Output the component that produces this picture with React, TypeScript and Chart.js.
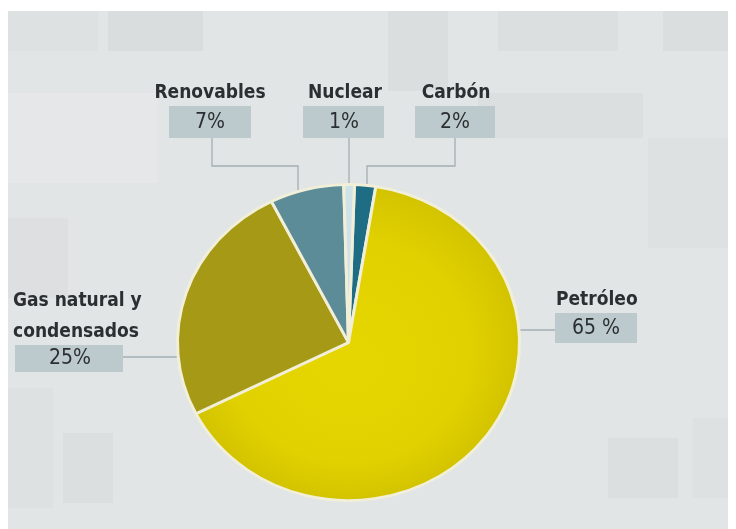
import React, { useEffect, useRef } from 'react';
import { Chart, registerables } from 'chart.js';
Chart.register(...registerables);

// ---- data ----
const categories = ['Carbón', 'Petróleo', 'Gas natural y condensados', 'Renovables', 'Nuclear'];
const shares = [2, 65, 25, 7, 1];
const shareLabels = ['2%', '65 %', '25%', '7%', '1%'];
const nameLines = [['Carbón'], ['Petróleo'], ['Gas natural y', 'condensados'], ['Renovables'], ['Nuclear']];
const sliceColors = ['#1f6d85', '#e0d000', '#a69916', '#5d8c99', '#cfe2e7'];

// ---- layout (canvas coordinates) ----
const Y_SQUASH = 158 / 171;
const labelLayout = [
  { kind: 'top', nameX: 448, nameY: 85, box: [407, 98, 80, 32], pctX: 447, pctY: 115, lineX: 447, elbowY: 158, endX: 359 },
  { kind: 'right', nameX: 548, nameY: 292, align: 'left', box: [547, 305, 82, 30], pctX: 588, pctY: 321, lineY: 322 },
  { kind: 'left', nameX: 5, nameY: 293, lineGap: 31, align: 'left', box: [7, 337, 108, 27], pctX: 62, pctY: 351, lineY: 349 },
  { kind: 'top', nameX: 202, nameY: 85, box: [161, 98, 82, 32], pctX: 202, pctY: 115, lineX: 204, elbowY: 158, endX: 290 },
  { kind: 'top', nameX: 337, nameY: 85, box: [295, 98, 81, 32], pctX: 336, pctY: 115, lineX: 341, elbowY: null, endX: 341 },
];

const bgBlocks: [number, number, number, number, string][] = [
  [0, 3, 728, 518, '#e2e5e6'],
  [0, 3, 90, 40, '#dee1e2'],
  [100, 3, 95, 40, '#dadddd'],
  [380, 3, 60, 80, '#dbdedf'],
  [490, 3, 120, 40, '#dcdfe0'],
  [655, 3, 73, 40, '#dbdedf'],
  [470, 85, 165, 45, '#dcdfe0'],
  [0, 85, 150, 90, '#e5e7e8'],
  [640, 130, 88, 110, '#dee1e2'],
  [0, 210, 60, 80, '#dddfe0'],
  [0, 380, 45, 120, '#dee1e2'],
  [55, 425, 50, 70, '#dcdfe0'],
  [600, 430, 70, 60, '#dcdfe0'],
  [685, 410, 43, 80, '#dee1e2'],
];

const bgPlugin = {
  id: 'bg',
  beforeDraw(chart: any) {
    const c = chart.ctx;
    c.save();
    c.fillStyle = '#ffffff';
    c.fillRect(0, 0, chart.width, chart.height);
    for (const [x, y, w, h, col] of bgBlocks) {
      c.fillStyle = col;
      c.fillRect(x, y, w, h);
    }
    c.restore();
  },
};

const squashPlugin = {
  id: 'squash',
  beforeDatasetsDraw(chart: any) {
    const arc = chart.getDatasetMeta(0).data[0];
    const c = chart.ctx;
    c.save();
    c.translate(arc.x, arc.y);
    c.scale(1, Y_SQUASH);
    c.translate(-arc.x, -arc.y);
  },
  afterDatasetsDraw(chart: any) {
    chart.ctx.restore();
  },
};

const labelPlugin = {
  id: 'calloutLabels',
  afterDraw(chart: any) {
    const c = chart.ctx;
    const arc = chart.getDatasetMeta(0).data[0];
    const cx = arc.x, cy = arc.y;
    const rx = arc.outerRadius + 1.5;
    const ry = rx * Y_SQUASH;
    const edgeY = (x: number) => cy - ry * Math.sqrt(Math.max(0, 1 - ((x - cx) / rx) ** 2));
    const edgeX = (y: number, side: number) => cx + side * rx * Math.sqrt(Math.max(0, 1 - ((y - cy) / ry) ** 2));
    c.save();
    categories.forEach((_, i) => {
      const L: any = labelLayout[i];
      const [bx, by, bw, bh] = L.box;
      // leader line
      c.strokeStyle = '#a3aeb3';
      c.lineWidth = 1.3;
      c.beginPath();
      if (L.kind === 'top') {
        c.moveTo(L.lineX, by + bh);
        if (L.elbowY != null) {
          c.lineTo(L.lineX, L.elbowY);
          c.lineTo(L.endX, L.elbowY);
        }
        c.lineTo(L.endX, edgeY(L.endX));
      } else if (L.kind === 'left') {
        c.moveTo(bx + bw, L.lineY);
        c.lineTo(edgeX(L.lineY, -1), L.lineY);
      } else {
        c.moveTo(edgeX(L.lineY, 1), L.lineY);
        c.lineTo(bx, L.lineY);
      }
      c.stroke();
      // box
      c.fillStyle = '#bccacd';
      c.fillRect(bx, by, bw, bh);
      // name
      c.fillStyle = '#2b2f31';
      c.textBaseline = 'middle';
      c.font = 'bold 19px "DejaVu Sans Condensed", "DejaVu Sans", sans-serif';
      c.textAlign = L.align === 'left' ? 'left' : 'center';
      nameLines[i].forEach((t, k) => c.fillText(t, L.nameX, L.nameY + k * (L.lineGap || 0)));
      // percent
      c.textAlign = 'center';
      c.font = '21px "DejaVu Sans Condensed", "DejaVu Sans", sans-serif';
      c.fillText(shareLabels[i], L.pctX, L.pctY);
    });
    c.restore();
  },
};

export default function App() {
  const ref = useRef<HTMLCanvasElement>(null);
  useEffect(() => {
    const chart = new Chart(ref.current!, {
      type: 'pie',
      data: {
        labels: categories,
        datasets: [
          {
            data: shares,
            backgroundColor: (ctx: any) => {
              const i = ctx.dataIndex;
              if (i !== 1) return sliceColors[i];
              const ch = ctx.chart;
              const a = ch.chartArea;
              if (!a) return sliceColors[i];
              const x = (a.left + a.right) / 2;
              const y = (a.top + a.bottom) / 2;
              const r = Math.min(a.width, a.height) / 2;
              const g = ch.ctx.createRadialGradient(x, y + 30, 0, x, y, r);
              g.addColorStop(0, '#e6d600');
              g.addColorStop(0.7, '#e1d100');
              g.addColorStop(1, '#d2c300');
              return g;
            },
            borderColor: '#f2efd8',
            borderWidth: 3,
            hoverOffset: 0,
          },
        ],
      },
      options: {
        responsive: false,
        animation: false,
        rotation: 2,
        layout: { padding: { left: 168, right: 215, top: 162, bottom: 14 } },
        plugins: { legend: { display: false }, tooltip: { enabled: false } },
      },
      plugins: [bgPlugin, squashPlugin, labelPlugin],
    });
    return () => chart.destroy();
  }, []);
  return <canvas ref={ref} width={728} height={521} style={{ display: 'block' }} />;
}
